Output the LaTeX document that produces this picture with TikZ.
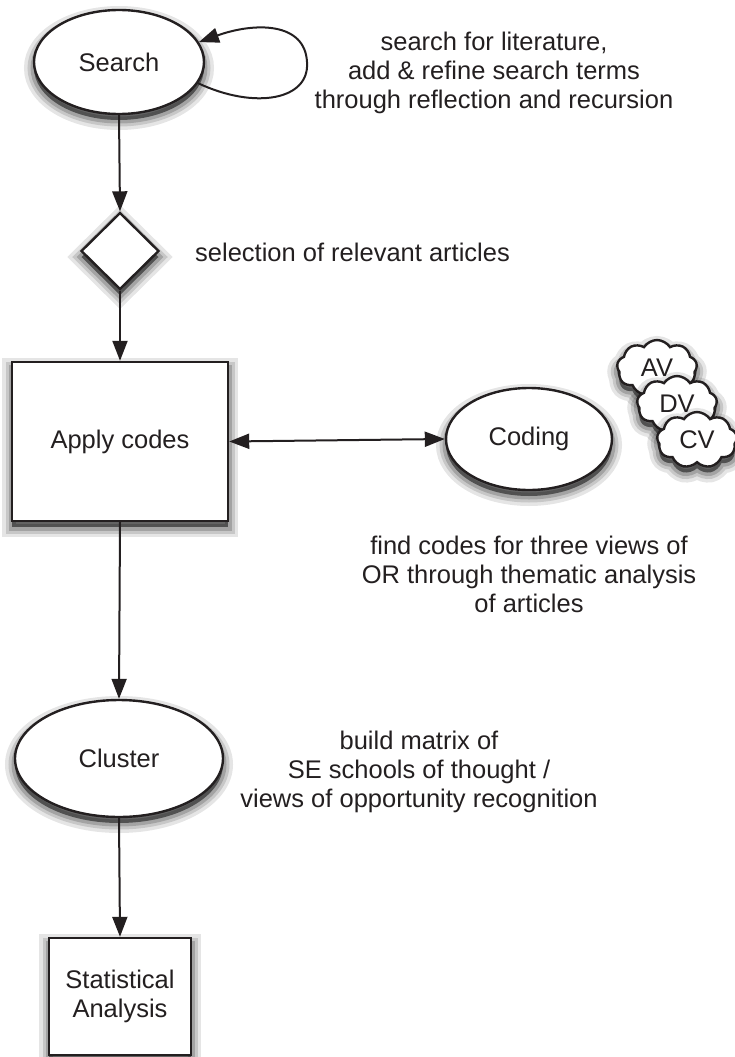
\documentclass[tikz,border=0pt]{standalone}
\usepackage{fontspec}
\setmainfont{Liberation Sans}
\usetikzlibrary{shapes.geometric,shapes.symbols,arrows.meta,shadows}
\definecolor{ink}{HTML}{231F20}
\tikzset{
  shad/.style={
    general shadow={draw=black, draw opacity=0.10, line width=20pt, fill=black, fill opacity=0.5, shadow yshift=-6pt},
    general shadow={draw=black, draw opacity=0.13, line width=13pt, shadow yshift=-6pt},
    general shadow={draw=black, draw opacity=0.18, line width=7pt, shadow yshift=-6pt}},
  box/.style={draw=ink, line width=2.4pt, fill=white, shad, inner sep=0pt, text=ink, align=center},
  ell/.style={box, ellipse},
  rect/.style={box, rectangle},
  dia/.style={box, diamond, aspect=1},
  cld/.style={box, cloud, cloud puffs=9, cloud puff arc=115, cloud ignores aspect, minimum width=80pt, minimum height=56pt},
  lbl/.style={align=center, text=ink, inner sep=0pt},
  arr/.style={draw=ink, line width=2pt, -{Triangle[length=20pt,width=15pt]}},
  darr/.style={draw=ink, line width=2pt, {Triangle[length=20pt,width=15pt]}-{Triangle[length=20pt,width=15pt]}},
}
\begin{document}
\begin{tikzpicture}[x=1pt, y=-1pt, font={\fontsize{25.5}{29}\selectfont}]
\useasboundingbox (0,0) rectangle (734,1057);
% nodes
\node[ell, minimum width=170pt, minimum height=104pt] (search) at (119,62) {Search};
\node[dia, minimum width=78pt, minimum height=77pt] (sel) at (120,251) {};
\node[rect, minimum width=216pt, minimum height=159pt] (apply) at (120,441.5) {Apply codes};
\node[ell, minimum width=166pt, minimum height=102pt] (coding) at (529,439) {Coding};
\node[ell, minimum width=208pt, minimum height=117pt] (cluster) at (119,758.5) {Cluster};
\node[rect, minimum width=142pt, minimum height=117pt] (stat) at (120,996.5) {Statistical\\Analysis};
% clouds
\node[cld] (av) at (657,368) {AV};
\node[cld] (dv) at (677,404) {DV};
\node[cld] (cv) at (697,440) {CV};
% labels
\node[lbl] (t1) at (494,73) {search for literature,\\add \& refine search terms\\through reflection and recursion};
\node[lbl, anchor=west] (t2) at (195,252) {selection of relevant articles};
\node[lbl] (t3) at (529,574) {find codes for three views of\\OR through thematic analysis\\of articles};
\node[lbl] (t4) at (419,772) {build matrix of\\SE schools of thought /\\views of opportunity recognition};
% connectors
\draw[arr] (search.-15) .. controls (255,110) and (310,100) .. (307,62) .. controls (305,22) and (255,22) .. (search.14);
\draw[arr] (search.south) -- (sel.north);
\draw[arr] (sel.south) -- (apply.north);
\draw[darr] (apply.east) -- (coding.west);
\draw[arr] (apply.south) -- (cluster.north);
\draw[arr] (cluster.south) -- (stat.north);
\end{tikzpicture}
\end{document}
